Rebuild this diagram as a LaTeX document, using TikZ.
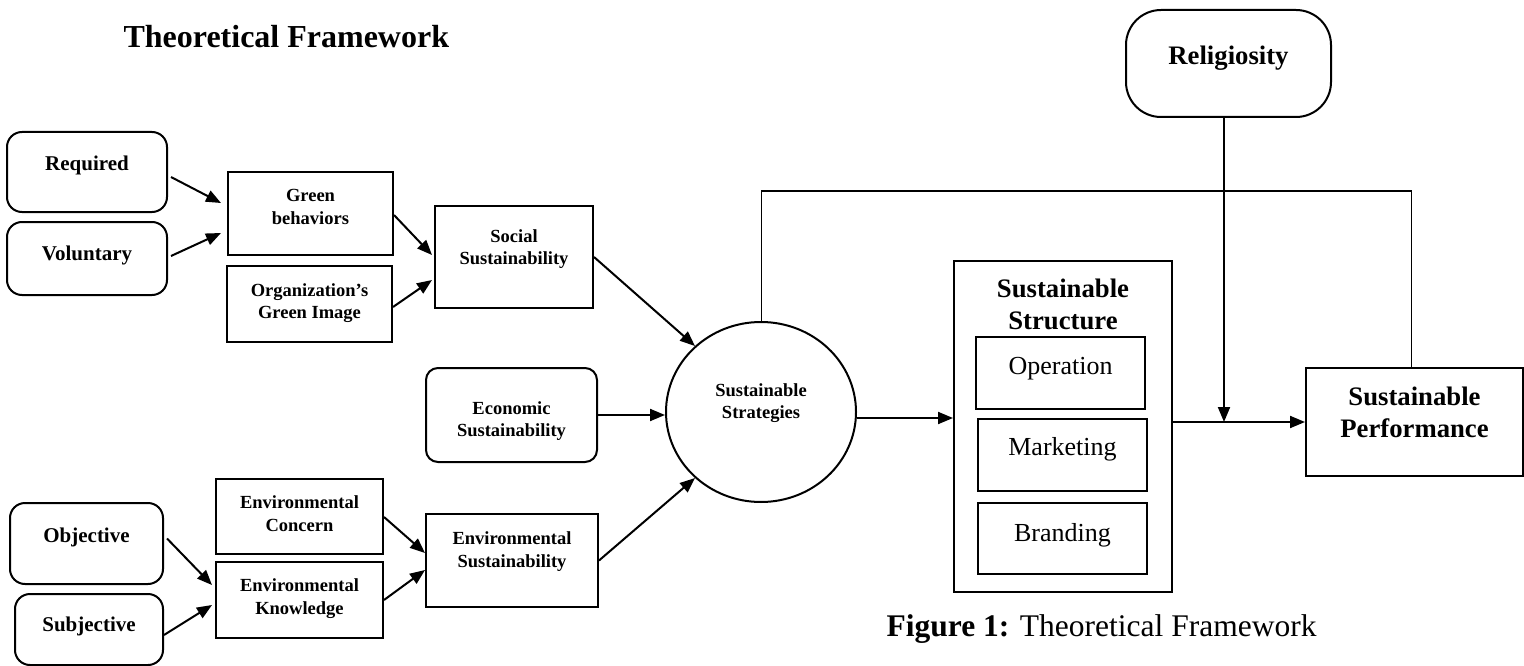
\documentclass[tikz,border=0pt]{standalone}
\usepackage{fontspec}
\setmainfont{Liberation Serif}
\usetikzlibrary{arrows.meta,shapes.geometric}

\tikzset{
  box/.style={draw, line width=2pt, align=center, inner sep=2pt},
  sbox/.style={box, font=\bfseries\fontsize{18.5}{22.5}\selectfont},
  rbox/.style={box, rounded corners=15pt, font=\bfseries\fontsize{21}{25}\selectfont},
  bigbox/.style={box, font=\bfseries\fontsize{26.7}{32}\selectfont},
  partbox/.style={box, font=\fontsize{26}{31}\selectfont},
  arr/.style={-{Triangle[length=15pt,width=12pt]}, line width=2pt}
}

\begin{document}
\begin{tikzpicture}[x=1pt,y=-1pt]
\useasboundingbox (0,0) rectangle (1524,666);

\node[anchor=base west, font=\bfseries\fontsize{32}{38}\selectfont] (title) at (120,48) {Theoretical Framework};

% social side
\node[rbox, minimum width=160, minimum height=80, text depth=18] (req) at (87,172) {Required};
\node[rbox, minimum width=160, minimum height=73, text depth=11] (vol) at (87,258.5) {Voluntary};
\node[sbox, minimum width=165, minimum height=83, text depth=13] (gb) at (310.5,213.5) {Green\\behaviors};
\node[sbox, minimum width=165, minimum height=76, text depth=6] (org) at (309.5,304) {Organization’s\\Green Image};
\node[sbox, minimum width=158, minimum height=102, text depth=20] (soc) at (514,257) {Social\\Sustainability};

% economic
\node[sbox, rounded corners=12pt, minimum width=171, minimum height=94, text height=43, text depth=0] (eco) at (511.5,415) {Economic\\Sustainability};

% environmental side
\node[rbox, minimum width=153, minimum height=81, text depth=17] (obj) at (86.5,543.5) {Objective};
\node[rbox, minimum width=148, minimum height=71, text depth=11] (subj) at (89,629.5) {Subjective};
\node[sbox, minimum width=167, minimum height=75, text depth=6] (envc) at (299.5,516.5) {Environmental\\Concern};
\node[sbox, minimum width=167, minimum height=76, text depth=7] (envk) at (299.5,600) {Environmental\\Knowledge};
\node[sbox, minimum width=172, minimum height=93, text depth=22] (envs) at (512,560.5) {Environmental\\Sustainability};

% centre
\node[sbox, ellipse, minimum width=190, minimum height=180, text depth=22] (strat) at (761,412) {Sustainable\\Strategies};

% structure
\node[bigbox, minimum width=218, minimum height=331, text depth=245] (struct) at (1063,426.5) {Sustainable\\Structure};
\node[partbox, minimum width=169, minimum height=72, text depth=14] (op) at (1060.5,373) {Operation};
\node[partbox, minimum width=169, minimum height=72, text depth=18] (mkt) at (1062.5,455) {Marketing};
\node[partbox, minimum width=169, minimum height=71, text depth=13] (brand) at (1062.5,538.5) {Branding};

\node[bigbox, minimum width=217, minimum height=108, text depth=19] (perf) at (1414.5,422) {Sustainable\\Performance};
\node[bigbox, rounded corners=35pt, minimum width=205, minimum height=107, text depth=17] (rel) at (1228.5,63.5) {Religiosity};

\node[anchor=base east, font=\fontsize{31.5}{38}\selectfont] (cap) at (1320,636) {\textbf{Figure 1:} Theoretical Framework};

% arrows
\draw[arr] ([shift={(3,5)}]req.east) -- ([shift={(-6,-10.5)}]gb.west);
\draw[arr] ([shift={(3,-2.5)}]vol.east) -- ([shift={(-6,19.5)}]gb.west);
\draw[arr] ([shift={(0,1.5)}]gb.east) -- ([shift={(-2,-2)}]soc.west);
\draw[arr] ([shift={(0,3)}]org.east) -- ([shift={(-2,23)}]soc.west);
\draw[arr] ([shift={(3,-5)}]obj.east) -- ([shift={(-3,-15)}]envk.west);
\draw[arr] ([shift={(0,5.5)}]subj.east) -- ([shift={(-3,5)}]envk.west);
\draw[arr] ([shift={(0,0.5)}]envc.east) -- ([shift={(0,-7.5)}]envs.west);
\draw[arr] (envk.east) -- ([shift={(0,9.5)}]envs.west);
\draw[arr] (soc.east) -- (strat.135);
\draw[arr] (eco.east) -- (eco.east -| strat.west);
\draw[arr] (envs.east) -- (strat.225);
\draw[arr] ([shift={(0,6)}]strat.east) -- ([shift={(0,6)}]strat.east -| struct.west);
\draw[arr] (struct.east |- perf.west) -- (perf.west);
\coordinate (mod) at ([xshift=-4.5pt]rel.south |- perf.west);
\draw[arr] ([xshift=-4.5pt]rel.south) -- (mod);
\draw[line width=1pt] (strat.north) -- ++(0,-130) -| ([xshift=-3.5pt]perf.north);
\end{tikzpicture}
\end{document}
